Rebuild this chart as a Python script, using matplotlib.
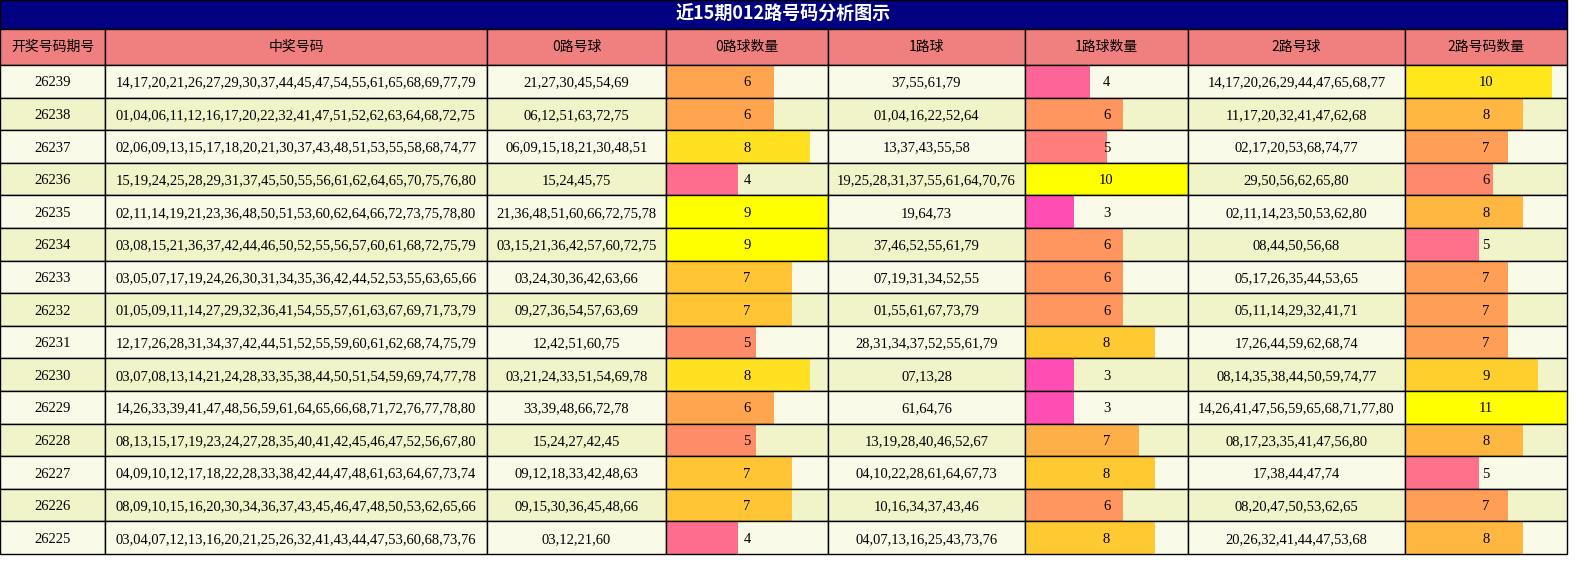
import matplotlib.pyplot as plt
from matplotlib.colors import LinearSegmentedColormap

title = "近15期012路号码分析图示"
headers = ["开奖号码期号", "中奖号码", "0路号球", "0路球数量", "1路球", "1路球数量", "2路号球", "2路号码数量"]

issues = ["26239", "26238", "26237", "26236", "26235", "26234", "26233", "26232",
          "26231", "26230", "26229", "26228", "26227", "26226", "26225"]
draws = [
    "14,17,20,21,26,27,29,30,37,44,45,47,54,55,61,65,68,69,77,79",
    "01,04,06,11,12,16,17,20,22,32,41,47,51,52,62,63,64,68,72,75",
    "02,06,09,13,15,17,18,20,21,30,37,43,48,51,53,55,58,68,74,77",
    "15,19,24,25,28,29,31,37,45,50,55,56,61,62,64,65,70,75,76,80",
    "02,11,14,19,21,23,36,48,50,51,53,60,62,64,66,72,73,75,78,80",
    "03,08,15,21,36,37,42,44,46,50,52,55,56,57,60,61,68,72,75,79",
    "03,05,07,17,19,24,26,30,31,34,35,36,42,44,52,53,55,63,65,66",
    "01,05,09,11,14,27,29,32,36,41,54,55,57,61,63,67,69,71,73,79",
    "12,17,26,28,31,34,37,42,44,51,52,55,59,60,61,62,68,74,75,79",
    "03,07,08,13,14,21,24,28,33,35,38,44,50,51,54,59,69,74,77,78",
    "14,26,33,39,41,47,48,56,59,61,64,65,66,68,71,72,76,77,78,80",
    "08,13,15,17,19,23,24,27,28,35,40,41,42,45,46,47,52,56,67,80",
    "04,09,10,12,17,18,22,28,33,38,42,44,47,48,61,63,64,67,73,74",
    "08,09,10,15,16,20,30,34,36,37,43,45,46,47,48,50,53,62,65,66",
    "03,04,07,12,13,16,20,21,25,26,32,41,43,44,47,53,60,68,73,76",
]
road0 = ["21,27,30,45,54,69", "06,12,51,63,72,75", "06,09,15,18,21,30,48,51", "15,24,45,75",
         "21,36,48,51,60,66,72,75,78", "03,15,21,36,42,57,60,72,75", "03,24,30,36,42,63,66",
         "09,27,36,54,57,63,69", "12,42,51,60,75", "03,21,24,33,51,54,69,78", "33,39,48,66,72,78",
         "15,24,27,42,45", "09,12,18,33,42,48,63", "09,15,30,36,45,48,66", "03,12,21,60"]
road1 = ["37,55,61,79", "01,04,16,22,52,64", "13,37,43,55,58", "19,25,28,31,37,55,61,64,70,76",
         "19,64,73", "37,46,52,55,61,79", "07,19,31,34,52,55", "01,55,61,67,73,79",
         "28,31,34,37,52,55,61,79", "07,13,28", "61,64,76", "13,19,28,40,46,52,67",
         "04,10,22,28,61,64,67,73", "10,16,34,37,43,46", "04,07,13,16,25,43,73,76"]
road2 = ["14,17,20,26,29,44,47,65,68,77", "11,17,20,32,41,47,62,68", "02,17,20,53,68,74,77",
         "29,50,56,62,65,80", "02,11,14,23,50,53,62,80", "08,44,50,56,68", "05,17,26,35,44,53,65",
         "05,11,14,29,32,41,71", "17,26,44,59,62,68,74", "08,14,35,38,44,50,59,74,77",
         "14,26,41,47,56,59,65,68,71,77,80", "08,17,23,35,41,47,56,80", "17,38,44,47,74",
         "08,20,47,50,53,62,65", "20,26,32,41,44,47,53,68"]
count0 = [6, 6, 8, 4, 9, 9, 7, 7, 5, 8, 6, 5, 7, 7, 4]
count1 = [4, 6, 5, 10, 3, 6, 6, 6, 8, 3, 3, 7, 8, 6, 8]
count2 = [10, 8, 7, 6, 8, 5, 7, 7, 7, 9, 11, 8, 5, 7, 8]

cmap = LinearSegmentedColormap.from_list("heat", [
    (0.0, "#ff40c0"), (0.3, "#ff4db4"), (0.45, "#ff6f8c"), (0.55, "#ff8a6a"),
    (0.67, "#ffa64f"), (0.78, "#ffc535"), (0.9, "#ffe41f"), (1.0, "#ffff00")])

col_x = [0, 105, 487, 666, 828, 1025, 1188, 1405, 1567]
title_h, head_top, head_bot, row_h = 29, 29, 65, 32.6

fig = plt.figure(figsize=(15.92, 5.62), dpi=100)
ax = fig.add_axes([0, 0, 1, 1])
ax.set_xlim(0, 1592)
ax.set_ylim(562, 0)
ax.axis("off")

serif = ["Liberation Serif", "Noto Sans CJK SC"]
cjk = ["Noto Sans CJK SC", "DejaVu Sans"]

ax.add_patch(plt.Rectangle((0, 0), col_x[-1], title_h, fc="#000080", ec="black", lw=1))
ax.text(col_x[-1] / 2, title_h / 2, title, color="white", fontsize=13, fontweight="bold",
        ha="center", va="center", family=cjk)

for i, h in enumerate(headers):
    ax.add_patch(plt.Rectangle((col_x[i], head_top), col_x[i + 1] - col_x[i], head_bot - head_top,
                               fc="#f08080", ec="black", lw=1))
    ax.text((col_x[i] + col_x[i + 1]) / 2, (head_top + head_bot) / 2, h, fontsize=10,
            ha="center", va="center", family=cjk)

text_cols = [issues, draws, road0, None, road1, None, road2, None]
counts = {3: (count0, 9), 5: (count1, 10), 7: (count2, 11)}

for r in range(len(issues)):
    y0 = head_bot + r * row_h
    bg = "#fafae8" if r % 2 == 0 else "#f0f4c8"
    yc = y0 + row_h / 2
    for c in range(8):
        x0, x1 = col_x[c], col_x[c + 1]
        w = x1 - x0
        ax.add_patch(plt.Rectangle((x0, y0), w, row_h, fc=bg, ec="none"))
        if c in counts:
            vals, vmax = counts[c]
            frac = vals[r] / vmax
            ax.barh(yc, w * frac, height=row_h, left=x0, color=cmap(frac), edgecolor="none")
            label = str(vals[r])
        else:
            label = text_cols[c][r]
        ax.text((x0 + x1) / 2, yc, label, fontsize=10.5, ha="center", va="center_baseline",
                family=serif)
        ax.add_patch(plt.Rectangle((x0, y0), w, row_h, fc="none", ec="black", lw=1))

plt.savefig("out.png", dpi=100)
